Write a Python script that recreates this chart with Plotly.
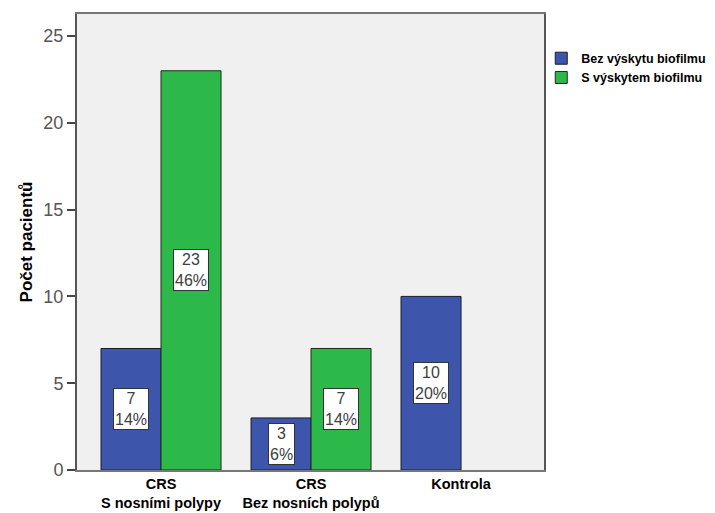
import plotly.graph_objects as go

categories = ["CRS<br>S nosními polypy", "CRS<br>Bez nosních polypů", "Kontrola"]
bez_values = [7, 3, 10]
s_values = [23, 7, None]
bez_pct = ["14%", "6%", "20%"]
s_pct = ["46%", "14%", ""]
series_names = ["Bez výskytu biofilmu", "S výskytem biofilmu"]
y_ticks = [0, 5, 10, 15, 20, 25]

blue = "#3D55AA"
green = "#2DB84A"

fig = go.Figure()
fig.add_trace(go.Bar(x=list(range(3)), y=bez_values, name=f"<b>{series_names[0]}</b>",
                     marker=dict(color=blue, line=dict(color="#1c1c2c", width=1)),
                     offset=-0.4, width=0.4))
fig.add_trace(go.Bar(x=list(range(3)), y=s_values, name=f"<b>{series_names[1]}</b>",
                     marker=dict(color=green, line=dict(color="#1c2c1c", width=1)),
                     offset=0.0, width=0.4))

annotations = []
def add_labels(values, pcts, dx):
    for i, (v, p) in enumerate(zip(values, pcts)):
        if v:
            annotations.append(dict(x=i + dx, y=v / 2, xref="x", yref="y",
                                    text=f"{v}<br>{p}", showarrow=False,
                                    font=dict(size=16, color="#404040", family="Liberation Sans, Arial"),
                                    bgcolor="white", bordercolor="#333333", borderwidth=1, borderpad=1))
add_labels(bez_values, bez_pct, -0.2)
add_labels(s_values, s_pct, 0.2)

fig.update_layout(
    width=715, height=513,
    margin=dict(l=77, r=171, t=14, b=43, autoexpand=False),
    paper_bgcolor="white",
    plot_bgcolor="#F0F0F0",
    barmode="overlay",
    showlegend=True,
    legend=dict(xref="container", yref="container", x=0.757, y=0.915,
                xanchor="left", yanchor="top",
                font=dict(size=12.5, color="black", family="Liberation Sans, Arial"),
                itemwidth=30, tracegroupgap=2, bgcolor="rgba(0,0,0,0)"),
    annotations=annotations,
    font=dict(family="Liberation Sans, Arial"),
)
fig.update_xaxes(
    automargin=False,
    range=[-0.56, 2.553],
    tickmode="array", tickvals=list(range(3)),
    ticktext=[f"<b>{c}</b>" for c in categories],
    tickfont=dict(size=14.5, color="black"),
    showgrid=False, zeroline=False,
    showline=True, linecolor="#777777", linewidth=2, mirror=True,
    ticks="",
)
fig.update_yaxes(
    automargin=False,
    range=[0, 26.27],
    tickmode="array", tickvals=y_ticks,
    tickfont=dict(size=18, color="#555555"),
    ticks="outside", ticklen=8, tickcolor="#444444", tickwidth=2,
    showgrid=False, zeroline=False,
    showline=True, linecolor="#555555", linewidth=2, mirror=True,
    title=dict(text="<b>Počet pacientů</b>", font=dict(size=17, color="black"), standoff=6),
)

fig.write_html("out.html")
